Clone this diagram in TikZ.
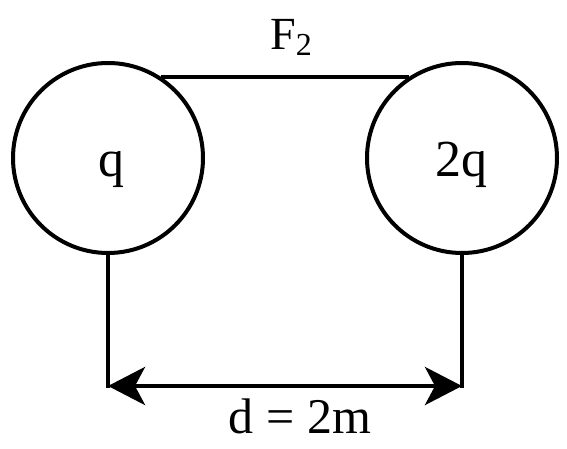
\documentclass[tikz,border=0pt]{standalone}
\usepackage{fontspec}
\setmainfont{Liberation Serif}
\usetikzlibrary{arrows.meta,positioning,calc}
\tikzset{charge/.style={draw,circle,minimum size=190pt,inner sep=0pt,line width=4pt},wire/.style={line width=4pt},lab/.style={font=\fontsize{52}{52}\selectfont,inner sep=0pt}}

\begin{document}
\begin{tikzpicture}[
  x=1pt,y=-1pt,
  span/.style={{Stealth[length=37pt,width=38pt,inset=10pt]}-{Stealth[length=37pt,width=38pt,inset=10pt]},line width=4.5pt}
]
\useasboundingbox (0,0) rectangle (567,449);
\node[charge] (chargeA) at (108,158) {};
\node[charge] (chargeB) at (462,158) {};
\node[lab,anchor=base] (labA) at (111,176) {q};
\node[lab,anchor=base] (labB) at (461,176) {2q};
\draw[wire] (chargeA.57)--(chargeB.123);
\node[lab,anchor=base,font=\fontsize{46}{46}\selectfont] (force) at (291,50)
  {F\raisebox{-6pt}{\fontsize{32}{32}\selectfont 2}};
\path (chargeA.south) ++(0,131) coordinate (footA);
\path (chargeB.south) ++(0,131) coordinate (footB);
\draw[wire,line cap=rect] (chargeA.south)--(footA);
\draw[wire,line cap=rect] (chargeB.south)--(footB);
\draw[span] (footA)--(footB);
\node[lab,anchor=base,font=\fontsize{50}{50}\selectfont] (dist) at (300,433) {d = 2m};
\end{tikzpicture}
\end{document}
